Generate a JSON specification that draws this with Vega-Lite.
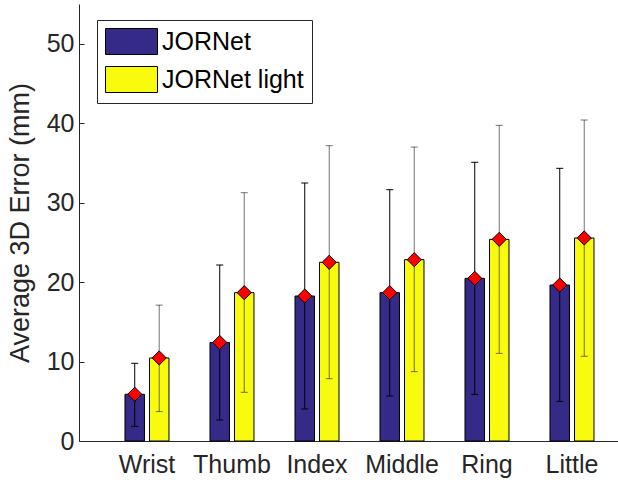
{
  "$schema": "https://vega.github.io/schema/vega-lite/v6.json",
  "autosize": "none",
  "width": 539,
  "height": 437,
  "padding": {"left": 79, "top": 4, "right": 0, "bottom": 44},
  "config": {"view": {"stroke": null}, "font": "Liberation Sans"},
  "data": {
    "values": [
      {"joint": "Wrist", "model": "JORNet", "mean": 5.88, "lo": 1.85, "hi": 9.78},
      {"joint": "Wrist", "model": "JORNet light", "mean": 10.45, "lo": 3.7, "hi": 17.1},
      {"joint": "Thumb", "model": "JORNet", "mean": 12.4, "lo": 2.64, "hi": 22.15},
      {"joint": "Thumb", "model": "JORNet light", "mean": 18.67, "lo": 6.13, "hi": 31.25},
      {"joint": "Index", "model": "JORNet", "mean": 18.25, "lo": 4.03, "hi": 32.47},
      {"joint": "Index", "model": "JORNet light", "mean": 22.49, "lo": 7.84, "hi": 37.17},
      {"joint": "Middle", "model": "JORNet", "mean": 18.67, "lo": 5.66, "hi": 31.63},
      {"joint": "Middle", "model": "JORNet light", "mean": 22.82, "lo": 8.73, "hi": 37.0},
      {"joint": "Ring", "model": "JORNet", "mean": 20.47, "lo": 5.87, "hi": 35.08},
      {"joint": "Ring", "model": "JORNet light", "mean": 25.38, "lo": 11.03, "hi": 39.73},
      {"joint": "Little", "model": "JORNet", "mean": 19.63, "lo": 4.99, "hi": 34.32},
      {"joint": "Little", "model": "JORNet light", "mean": 25.55, "lo": 10.66, "hi": 40.4}
    ]
  },
  "encoding": {
    "x": {
      "field": "joint",
      "type": "nominal",
      "sort": ["Wrist", "Thumb", "Index", "Middle", "Ring", "Little"],
      "scale": {"paddingInner": 0.4824, "paddingOuter": 0.4117, "align": 0.657},
      "title": null,
      "axis": {
        "labelAngle": 0,
        "labelFontSize": 25,
        "labelColor": "#262626",
        "labelPadding": 11,
        "domainColor": "#262626",
        "tickColor": "#262626",
        "tickSize": 0,
        "labelFont": "Liberation Sans"
      }
    },
    "xOffset": {
      "field": "model",
      "type": "nominal",
      "sort": ["JORNet", "JORNet light"],
      "scale": {"paddingInner": 0.204, "paddingOuter": 0}
    }
  },
  "layer": [
    {
      "mark": {"type": "bar", "stroke": "black", "strokeWidth": 1},
      "encoding": {
        "y": {
          "field": "mean",
          "type": "quantitative",
          "scale": {"domain": [0, 55], "nice": false},
          "title": "Average 3D Error (mm)",
          "axis": {
            "values": [0, 10, 20, 30, 40, 50],
            "grid": false,
            "labelFontSize": 25,
            "labelColor": "#262626",
            "labelPadding": 10,
            "tickSize": -5,
            "tickColor": "#262626",
            "domainColor": "#262626",
            "titleFontSize": 27,
            "titleFontWeight": "normal",
            "titleColor": "#262626",
            "titlePadding": 12
          }
        },
        "color": {
          "field": "model",
          "type": "nominal",
          "scale": {"domain": ["JORNet", "JORNet light"], "range": ["#352a87", "#f9fb0e"]},
          "legend": {
            "title": null,
            "orient": "none",
            "legendX": 18,
            "legendY": 16,
            "symbolType": "M-2,-1H2V1H-2Z",
            "symbolSize": 676,
            "symbolOffset": 13,
            "symbolStrokeColor": "black",
            "symbolStrokeWidth": 1,
            "symbolOpacity": 1,
            "labelFontSize": 25,
            "labelColor": "black",
            "labelOffset": 17,
            "strokeColor": "#262626",
            "fillColor": "white",
            "padding": 8,
            "rowPadding": 7
          }
        }
      }
    },
    {
      "mark": {"type": "rule", "color": "black", "strokeWidth": 1},
      "encoding": {
        "y": {"field": "lo", "type": "quantitative"},
        "y2": {"field": "hi"},
        "strokeOpacity": {"condition": {"test": "datum.model === 'JORNet light'", "value": 0.55}, "value": 1}
      }
    },
    {
      "mark": {"type": "tick", "color": "black", "size": 7, "thickness": 1, "orient": "horizontal"},
      "encoding": {
        "y": {"field": "hi", "type": "quantitative"},
        "opacity": {"condition": {"test": "datum.model === 'JORNet light'", "value": 0.55}, "value": 1}
      }
    },
    {
      "mark": {"type": "tick", "color": "black", "size": 7, "thickness": 1, "orient": "horizontal"},
      "encoding": {
        "y": {"field": "lo", "type": "quantitative"},
        "opacity": {"condition": {"test": "datum.model === 'JORNet light'", "value": 0.55}, "value": 1}
      }
    },
    {
      "mark": {"type": "point", "shape": "diamond", "filled": true, "fill": "red", "stroke": "black", "strokeWidth": 1, "size": 200, "opacity": 1},
      "encoding": {
        "y": {"field": "mean", "type": "quantitative"}
      }
    }
  ]
}
